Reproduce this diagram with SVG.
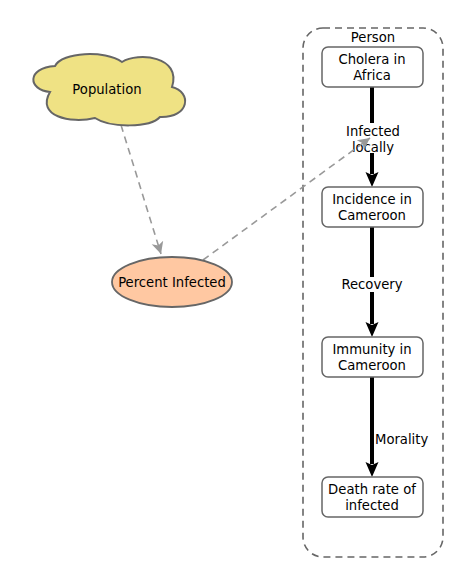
<svg xmlns="http://www.w3.org/2000/svg" width="464" height="584" viewBox="0 0 464 584">
<style>
text{font-family:"DejaVu Sans","Liberation Sans",sans-serif;font-size:13.2px;fill:#000;text-anchor:middle}
.stock{fill:#fff;stroke:#666;stroke-width:1.5}
.flow{stroke:#000;stroke-width:4;fill:none}
.link{stroke:#999;stroke-width:1.6;stroke-dasharray:7,5;fill:none}
.lbg{fill:#fff}
</style>
<defs>
<marker id="ah" markerUnits="userSpaceOnUse" markerWidth="14" markerHeight="14" refX="12" refY="6" orient="auto" viewBox="0 0 14 12">
<path d="M0 0 L12 6 L0 12 L3 6 Z" fill="#999"/>
</marker>
</defs>
<g id="person">
<rect x="303" y="28" width="140" height="529" rx="20" fill="none" stroke="#666" stroke-width="1.6" stroke-dasharray="7,5"/>
<text x="373" y="42">Person</text>
</g>
<g id="connectors">
<line class="flow" x1="372" y1="87" x2="372" y2="174"/>
<path d="M365.5 172 L372 187 L378.5 172 L372 175 Z" fill="#000"/>
<line class="flow" x1="372" y1="227" x2="372" y2="324"/>
<path d="M365.5 322 L372 337 L378.5 322 L372 325 Z" fill="#000"/>
<line class="flow" x1="372" y1="377" x2="372" y2="464"/>
<path d="M365.5 462 L372 477 L378.5 462 L372 465 Z" fill="#000"/>
<rect class="lbg" x="338" y="123" width="70" height="30"/>
<text x="373" y="136">Infected</text>
<text x="373" y="152">locally</text>
<rect class="lbg" x="338" y="277" width="68" height="15"/>
<text x="372" y="289">Recovery</text>
<text x="375" y="444" style="text-anchor:start">Morality</text>
<line class="link" x1="121" y1="125" x2="161" y2="254" marker-end="url(#ah)"/>
<line class="link" x1="203" y1="260" x2="370" y2="138" marker-end="url(#ah)"/>
</g>
<g id="population">
<path d="M50 92 C28 90,26 68,55 66 C62 52,105 50,122 62 C138 52,182 56,172 87 C192 92,190 118,160 117 C150 128,110 128,95 118 C70 124,36 116,50 92 Z" fill="#EFE284" stroke="#666" stroke-width="2"/>
<text x="107" y="94">Population</text>
</g>
<g id="percent-infected">
<ellipse cx="172" cy="282" rx="60" ry="25" fill="#FFC8A2" stroke="#666" stroke-width="1.8"/>
<text x="172" y="286.5">Percent Infected</text>
</g>
<g id="cholera">
<rect class="stock" x="322" y="47" width="101" height="40" rx="6"/>
<text x="372" y="64">Cholera in</text>
<text x="372" y="80">Africa</text>
</g>
<g id="incidence">
<rect class="stock" x="322" y="187" width="101" height="40" rx="6"/>
<text x="372" y="204">Incidence in</text>
<text x="372" y="220">Cameroon</text>
</g>
<g id="immunity">
<rect class="stock" x="322" y="337" width="101" height="40" rx="6"/>
<text x="372" y="354">Immunity in</text>
<text x="372" y="370">Cameroon</text>
</g>
<g id="death">
<rect class="stock" x="322" y="477" width="101" height="40" rx="6"/>
<text x="372" y="494">Death rate of</text>
<text x="372" y="510">infected</text>
</g>
</svg>
